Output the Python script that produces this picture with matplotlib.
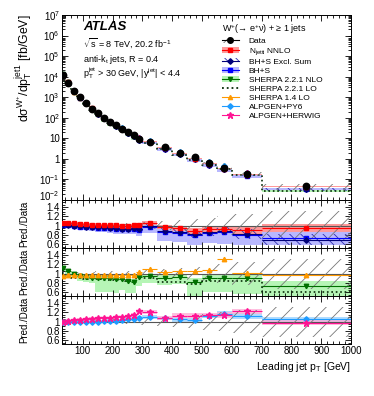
import numpy as np
import matplotlib
matplotlib.use('Agg')
import matplotlib.pyplot as plt
from matplotlib.patches import Patch
from matplotlib.lines import Line2D
from matplotlib.ticker import MultipleLocator, FixedLocator, FixedFormatter, LogLocator, NullFormatter

plt.rcParams['font.family'] = ['Liberation Sans', 'DejaVu Sans']
plt.rcParams['mathtext.fontset'] = 'custom'
plt.rcParams['mathtext.rm'] = 'Liberation Sans'
plt.rcParams['mathtext.it'] = 'Liberation Sans:italic'
plt.rcParams['mathtext.bf'] = 'Liberation Sans:bold'
plt.rcParams['mathtext.default'] = 'regular'
plt.rcParams['hatch.linewidth'] = 0.6

# bins of leading jet pT [GeV]
edges = [30, 40, 60, 80, 100, 120, 140, 160, 180, 200, 220, 240, 260, 280, 300,
         350, 400, 450, 500, 550, 600, 700, 1000]

# measured cross section [fb/GeV] and relative uncertainty
data = [1.2e4, 5.0e3, 1.9e3, 9.8e2, 5.2e2, 2.8e2, 1.65e2, 1.0e2, 63, 44, 30, 20, 14,
        9.5, 6.5, 3.6, 1.95, 1.17, 0.62, 0.37, 0.19, 0.047]
data_unc = [0.05, 0.04, 0.04, 0.04, 0.04, 0.04, 0.05, 0.05, 0.05, 0.05, 0.06, 0.06,
            0.06, 0.07, 0.08, 0.10, 0.12, 0.14, 0.17, 0.20, 0.25, 0.32]

# prediction / data
nnlo = [1.05, 1.06, 1.05, 1.04, 1.03, 1.02, 1.02, 1.01, 1.01, 1.02, 1.0, 1.0, 1.01,
        1.02, 1.06, 0.97, 0.94, 0.88, 0.93, 0.92, 0.9, 0.95]
nnlo_unc = [0.03, 0.03, 0.03, 0.03, 0.03, 0.03, 0.03, 0.03, 0.03, 0.03, 0.03, 0.03,
            0.03, 0.03, 0.04, 0.05, 0.05, 0.06, 0.06, 0.07, 0.07, 0.08]

bhs_excl = [1.03, 1.02, 1.0, 0.99, 0.98, 0.97, 0.96, 0.96, 0.95, 0.94, 0.93, 0.93,
            0.94, 0.92, 0.99, 0.88, 0.86, 0.81, 0.86, 0.88, 0.82, 0.70]
bhs_excl_unc = [0.03, 0.03, 0.03, 0.03, 0.03, 0.03, 0.03, 0.03, 0.03, 0.03, 0.04, 0.04,
                0.04, 0.04, 0.05, 0.06, 0.07, 0.08, 0.08, 0.09, 0.1, 0.12]

bhs = [1.02, 1.01, 1.0, 0.98, 0.97, 0.96, 0.95, 0.95, 0.94, 0.93, 0.92, 0.92, 0.93,
       0.9, 0.97, 0.86, 0.84, 0.8, 0.84, 0.86, 0.8, 0.74]
bhs_up = [0.03, 0.03, 0.03, 0.03, 0.03, 0.03, 0.03, 0.03, 0.04, 0.04, 0.04, 0.04,
          0.04, 0.04, 0.05, 0.06, 0.06, 0.07, 0.08, 0.08, 0.1, 0.15]
bhs_dn = [0.06, 0.06, 0.06, 0.07, 0.07, 0.08, 0.08, 0.09, 0.09, 0.1, 0.1, 0.11,
          0.11, 0.12, 0.13, 0.18, 0.2, 0.22, 0.22, 0.25, 0.22, 0.15]

sherpa_nlo = [1.13, 1.06, 1.0, 0.94, 0.92, 0.91, 0.9, 0.9, 0.9, 0.89, 0.89, 0.84,
              0.83, 0.93, 0.94, 0.9, 0.93, 0.83, 0.9, 0.9, 0.91, 0.73]
sherpa_nlo_up = [0.03, 0.03, 0.03, 0.03, 0.03, 0.03, 0.03, 0.03, 0.04, 0.04, 0.04, 0.05,
                 0.05, 0.05, 0.05, 0.06, 0.06, 0.08, 0.08, 0.1, 0.1, 0.12]
sherpa_nlo_dn = [0.05, 0.06, 0.08, 0.1, 0.1, 0.12, 0.3, 0.3, 0.3, 0.3, 0.25, 0.25,
                 0.25, 0.2, 0.15, 0.15, 0.15, 0.3, 0.3, 0.3, 0.35, 0.3]

sherpa_lo = [1.02, 0.95, 0.9, 0.9, 0.89, 0.88, 0.88, 0.87, 0.87, 0.86, 0.86, 0.85,
             0.85, 0.9, 0.9, 0.82, 0.82, 0.78, 0.85, 0.85, 0.85, 0.6]

sherpa14 = [0.95, 0.97, 0.97, 0.97, 0.97, 0.97, 0.97, 0.97, 0.97, 0.97, 0.97, 0.97,
            0.98, 1.04, 1.09, 1.04, 1.06, 1.05, 1.07, 1.32, 1.02, 0.98]

alpgen_py6 = [1.0, 1.0, 1.0, 1.0, 1.0, 1.0, 1.0, 1.01, 1.02, 1.02, 1.03, 1.05, 1.06,
              1.08, 1.1, 1.07, 1.05, 1.03, 1.12, 1.17, 1.12, 1.05]
alpgen_hw = [1.0, 1.02, 1.03, 1.04, 1.05, 1.06, 1.07, 1.08, 1.08, 1.09, 1.1, 1.12,
             1.15, 1.22, 1.2, 1.08, 1.13, 1.13, 1.14, 1.14, 1.22, 0.98]
alpgen_unc = [0.03, 0.03, 0.03, 0.03, 0.03, 0.03, 0.03, 0.03, 0.03, 0.03, 0.03, 0.03,
              0.03, 0.04, 0.04, 0.04, 0.05, 0.05, 0.05, 0.06, 0.06, 0.06]

edges = np.array(edges, float)
centers = 0.5 * (edges[1:] + edges[:-1])
halfw = 0.5 * (edges[1:] - edges[:-1])
data = np.array(data)


def st(v):
    v = np.asarray(v, float)
    return np.append(v, v[-1])


def band(ax, lo, hi, **kw):
    ax.fill_between(edges, st(lo), st(hi), step='post', linewidth=0, **kw)


def hatch(ax, lo, hi, color, pat, z=3):
    ax.fill_between(edges, st(lo), st(hi), step='post', facecolor='none',
                    edgecolor=color, hatch=pat, linewidth=0, zorder=z)


def pts(ax, y, color, marker, ms=3.2, z=5):
    ax.errorbar(centers, y, xerr=halfw, fmt=marker, color=color, ms=ms,
                elinewidth=0.8, capsize=0, zorder=z)


c_red, c_redband = '#ff0000', '#ff9a9a'
c_blue, c_blueband = '#0000ff', '#b8b8ff'
c_navy = '#00007a'
c_green, c_greenband = '#007000', '#b6f5b6'
c_lo = '#062b06'
c_orange = '#ff9900'
c_lblue = '#1e9bff'
c_pink = '#ff1493'

fig = plt.figure(figsize=(3.74, 3.96), dpi=100)
L, R = 62 / 374, 351 / 374
def yf(px):
    return 1 - px / 396
ax0 = fig.add_axes([L, yf(200), R - L, yf(15) - yf(200)])
ax1 = fig.add_axes([L, yf(248), R - L, yf(200) - yf(248)])
ax2 = fig.add_axes([L, yf(296), R - L, yf(248) - yf(296)])
ax3 = fig.add_axes([L, yf(344), R - L, yf(296) - yf(344)])

# main panel
nn, bx, bs = np.array(nnlo), np.array(bhs_excl), np.array(bhs)
sn = np.array(sherpa_nlo)
band(ax0, data * sn * (1 - np.array(sherpa_nlo_dn)), data * sn * (1 + np.array(sherpa_nlo_up)),
     color=c_greenband, zorder=1)
band(ax0, data * bs * (1 - np.array(bhs_dn)), data * bs * (1 + np.array(bhs_up)),
     color=c_blueband, zorder=1)
band(ax0, data * nn * (1 - np.array(nnlo_unc)), data * nn * (1 + np.array(nnlo_unc)),
     color=c_redband, zorder=2)
hatch(ax0, data * bx * (1 - np.array(bhs_excl_unc)), data * bx * (1 + np.array(bhs_excl_unc)),
      '#3030b0', '\\\\\\')
ax0.step(edges, st(data * np.array(sherpa_lo)), where='post', color=c_lo, ls=':', lw=1.2, zorder=3)
hatch(ax0, data * (1 - np.array(data_unc)), data * (1 + np.array(data_unc)), '#777777', '//', z=4)
for vals, col, mk in [(sherpa14, c_orange, '^'), (alpgen_py6, c_lblue, 'D'),
                      (alpgen_hw, c_pink, '*'), (sherpa_nlo, c_green, 'v'),
                      (bhs, c_blue, 's'), (bhs_excl, c_navy, 'D'), (nnlo, c_red, 's')]:
    ax0.plot(centers, data * np.array(vals), mk, color=col, ms=3.0, zorder=5)
ax0.plot(centers, data, 'o', color='black', ms=4.6, zorder=6)
ax0.set_yscale('log')
ax0.set_ylim(1e-2, 1e7)
ax0.yaxis.set_major_locator(FixedLocator([10.0 ** k for k in range(-2, 8)]))
ax0.yaxis.set_major_formatter(FixedFormatter(
    ['', '10$^{-1}$', '1', '10', '10$^{2}$', '10$^{3}$', '10$^{4}$',
     '10$^{5}$', '10$^{6}$', '10$^{7}$']))
ax0.yaxis.set_minor_locator(LogLocator(base=10, subs=np.arange(2, 10), numticks=20))
ax0.yaxis.set_minor_formatter(NullFormatter())
# lowest decade label sits a little higher so it clears the ratio panel label
fig.text(59 / 374, yf(196), '10$^{-2}$', ha='right', va='center', fontsize=7)

# ratio panel 1: fixed order
band(ax1, np.array(bhs) - np.array(bhs_dn), np.array(bhs) + np.array(bhs_up),
     color=c_blueband, zorder=1)
band(ax1, nn - np.array(nnlo_unc), nn + np.array(nnlo_unc), color=c_redband, zorder=2)
hatch(ax1, bx - np.array(bhs_excl_unc), bx + np.array(bhs_excl_unc), '#3030b0', '\\\\\\')
hatch(ax1, 1 - np.array(data_unc), 1 + np.array(data_unc), '#777777', '//', z=3)
pts(ax1, bhs, c_blue, 's')
pts(ax1, bhs_excl, c_navy, 'D', ms=2.8)
pts(ax1, nnlo, c_red, 's')

# ratio panel 2: SHERPA
band(ax2, sn - np.array(sherpa_nlo_dn), sn + np.array(sherpa_nlo_up), color=c_greenband, zorder=1)
hatch(ax2, 1 - np.array(data_unc), 1 + np.array(data_unc), '#777777', '//', z=3)
ax2.step(edges, st(sherpa_lo), where='post', color=c_lo, ls=':', lw=1.2, zorder=4)
pts(ax2, sherpa_nlo, c_green, 'v')
pts(ax2, sherpa14, c_orange, '^')

# ratio panel 3: ALPGEN
band(ax3, np.array(alpgen_py6) - np.array(alpgen_unc), np.array(alpgen_py6) + np.array(alpgen_unc),
     color='#b0dcff', zorder=1)
band(ax3, np.array(alpgen_hw) - np.array(alpgen_unc), np.array(alpgen_hw) + np.array(alpgen_unc),
     color='#ffb0d8', zorder=1, alpha=0.8)
hatch(ax3, 1 - np.array(data_unc), 1 + np.array(data_unc), '#777777', '//', z=3)
pts(ax3, alpgen_py6, c_lblue, 'D', ms=2.8)
pts(ax3, alpgen_hw, c_pink, '*', ms=4.5)

for ax in (ax1, ax2, ax3):
    ax.axhline(1, color='#555555', lw=0.8, zorder=2)
    ax.set_ylim(0.52, 1.55)
    ax.yaxis.set_major_locator(FixedLocator([0.6, 0.8, 1.0, 1.2, 1.4]))
    ax.yaxis.set_major_formatter(FixedFormatter(['0.6', '0.8', '1', '1.2', '1.4']))
    ax.yaxis.set_minor_locator(MultipleLocator(0.05))

for ax in (ax0, ax1, ax2, ax3):
    ax.set_xlim(30, 1000)
    ax.xaxis.set_major_locator(MultipleLocator(100))
    ax.xaxis.set_minor_locator(MultipleLocator(20))
    ax.tick_params(which='both', direction='in', top=True, right=True, width=0.6,
                   labelsize=7, pad=1.5)
    ax.tick_params(which='major', length=4.5)
    ax.tick_params(which='minor', length=2.3)
    for s in ax.spines.values():
        s.set_linewidth(0.7)
    if ax is not ax3:
        ax.tick_params(labelbottom=False)
ax3.set_xticks([100, 200, 300, 400, 500, 600, 700, 800, 900, 1000])

# labels and texts
fig.text(83 / 374, yf(27.5), 'ATLAS', fontsize=9.5, fontweight='bold', fontstyle='italic',
         va='center')
fig.text(83 / 374, yf(43), '$\\sqrt{s}$ = 8 TeV, 20.2 fb$^{-1}$', fontsize=6.5, va='center')
fig.text(83 / 374, yf(59), 'anti-k$_{t}$ jets, R = 0.4', fontsize=6.5, va='center')
fig.text(83 / 374, yf(73), 'p$_{T}^{jet}$ > 30 GeV, |y$^{jet}$| < 4.4', fontsize=6.5, va='center')
fig.text(24 / 374, yf(14), 'd\u03c3$^{W^{+}}$/dp$_{T}^{jet1}$ [fb/GeV]', rotation=90,
         ha='center', va='top', fontsize=8.8)
for py in (224, 272, 320):
    fig.text(24 / 374, yf(py), 'Pred./Data', rotation=90, ha='center', va='center', fontsize=7)
fig.text(351 / 374, yf(367), 'Leading jet p$_{T}$ [GeV]', ha='right', va='center', fontsize=7.5)

handles = [
    (Patch(facecolor='white', edgecolor='#777777', hatch='//', lw=0),
     Line2D([], [], color='black', marker='o', ms=4, lw=0.8)),
    (Patch(facecolor=c_redband, lw=0), Line2D([], [], color=c_red, marker='s', ms=3, lw=0.8)),
    (Patch(facecolor='none', edgecolor='#3030b0', hatch='\\\\\\', lw=0),
     Line2D([], [], color=c_navy, marker='D', ms=2.8, lw=0.8)),
    (Patch(facecolor=c_blueband, lw=0), Line2D([], [], color=c_blue, marker='s', ms=3, lw=0.8)),
    (Patch(facecolor=c_greenband, lw=0), Line2D([], [], color=c_green, marker='v', ms=3, lw=0.8)),
    Line2D([], [], color=c_lo, ls=':', lw=1.3),
    Line2D([], [], color=c_orange, marker='^', ms=3, lw=0.8),
    Line2D([], [], color=c_lblue, marker='D', ms=2.8, lw=0.8),
    Line2D([], [], color=c_pink, marker='*', ms=4.5, lw=0.8),
]
labels = ['Data', 'N$_{jetti}$ NNLO', 'BH+S Excl. Sum', 'BH+S', 'SHERPA 2.2.1 NLO',
          'SHERPA 2.2.1 LO', 'SHERPA 1.4 LO', 'ALPGEN+PY6', 'ALPGEN+HERWIG']
leg = ax0.legend(handles, labels, loc='upper left', bbox_to_anchor=(222 / 374, yf(22)),
                 bbox_transform=fig.transFigure, frameon=False, fontsize=6,
                 title='W$^{+}$(\u2192 e$^{+}$\u03bd) + \u2265 1 jets', title_fontsize=6.5,
                 alignment='left', handlelength=2.0, handletextpad=1.2,
                 labelspacing=0.15, borderpad=0, borderaxespad=0)

fig.savefig('out.png', dpi=100)
